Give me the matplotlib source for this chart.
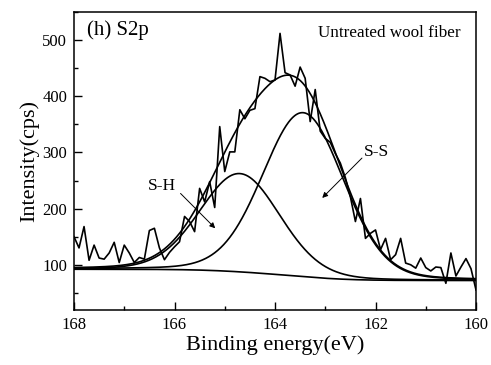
import numpy as np
import matplotlib.pyplot as plt
from matplotlib.ticker import MultipleLocator

plt.rcParams['font.family'] = ['Liberation Serif', 'DejaVu Serif']

# S2p survey of untreated wool, 0.1 eV steps from 168 to 160 eV
energy = np.linspace(168, 160, 81)
counts = [150, 130, 168, 108, 135, 112, 110, 121, 140, 104,
          135, 121, 104, 113, 110, 161, 165, 130, 109, 122,
          132, 141, 186, 177, 159, 236, 212, 248, 202, 346,
          266, 301, 301, 376, 360, 375, 378, 435, 432, 426,
          429, 512, 442, 438, 418, 452, 432, 355, 412, 338,
          325, 318, 298, 281, 255, 221, 177, 218, 147, 156,
          162, 127, 147, 109, 118, 147, 103, 100, 94, 112,
          95, 89, 96, 95, 67, 121, 80, 96, 111, 93, 55]

# fitted components: centre (eV), height above background (cps), FWHM (eV)
peak_names = ['S-S', 'S-H']
peak_centers = [163.44, 164.70]
peak_heights = [292, 175]
peak_fwhm = [1.90, 1.88]
gl_mix = 0.12
bg_low, bg_high = 72, 92


def gl_peak(x, c, h, w):
    sig = w / (2 * np.sqrt(2 * np.log(2)))
    g = np.exp(-(x - c) ** 2 / (2 * sig ** 2))
    l = 1 / (1 + (2 * (x - c) / w) ** 2)
    return h * ((1 - gl_mix) * g + gl_mix * l)


xf = np.linspace(168, 160, 801)
peaks = [gl_peak(xf, c, h, w) for c, h, w in zip(peak_centers, peak_heights, peak_fwhm)]
total = peaks[0] + peaks[1]

# Shirley-type background: step proportional to the area at lower binding energy
area = np.cumsum(total[::-1])[::-1]
area = area - area[-1]
bg = bg_low + (bg_high - bg_low) * area / area[0]

fig = plt.figure(figsize=(4.91, 3.65), dpi=100)
ax = fig.add_axes([0.1507, 0.1515, 0.8188, 0.8155])

lw = 1.2
ax.plot(energy, counts, color='k', lw=lw)
ax.plot(xf, bg + total, color='k', lw=lw)
for p in peaks:
    ax.plot(xf, bg + p, color='k', lw=lw)
ax.plot(xf, bg, color='k', lw=lw)

ax.set_xlim(168, 160)
ax.set_ylim(20, 550)
ax.xaxis.set_major_locator(MultipleLocator(2))
ax.xaxis.set_minor_locator(MultipleLocator(1))
ax.yaxis.set_major_locator(MultipleLocator(100))
ax.yaxis.set_minor_locator(MultipleLocator(50))
ax.tick_params(which='both', direction='in', top=False, right=False,
               labelsize=12, width=1.0)
ax.tick_params(which='major', length=5.5, pad=5)
ax.tick_params(which='minor', length=3)
for s in ax.spines.values():
    s.set_linewidth(1.1)

ax.set_xlabel('Binding energy(eV)', fontsize=16, labelpad=2)
ax.set_ylabel('Intensity(cps)', fontsize=16, labelpad=2)

ax.text(167.75, 517, '(h) S2p', fontsize=15, va='center', ha='left')
ax.text(160.3, 512, 'Untreated wool fiber', fontsize=12.3, va='center', ha='right')

arrow = dict(arrowstyle='-|>', lw=0.7, color='k', mutation_scale=8,
             shrinkA=0, shrinkB=0)
ax.text(166.25, 241, 'S-H', fontsize=12.5, ha='center', va='center')
ax.annotate('', xy=(165.19, 165), xytext=(165.88, 227), arrowprops=arrow)
ax.text(161.99, 301, 'S-S', fontsize=12.5, ha='center', va='center')
ax.annotate('', xy=(163.06, 219), xytext=(162.27, 290), arrowprops=arrow)

fig.savefig('out.png', dpi=100)
